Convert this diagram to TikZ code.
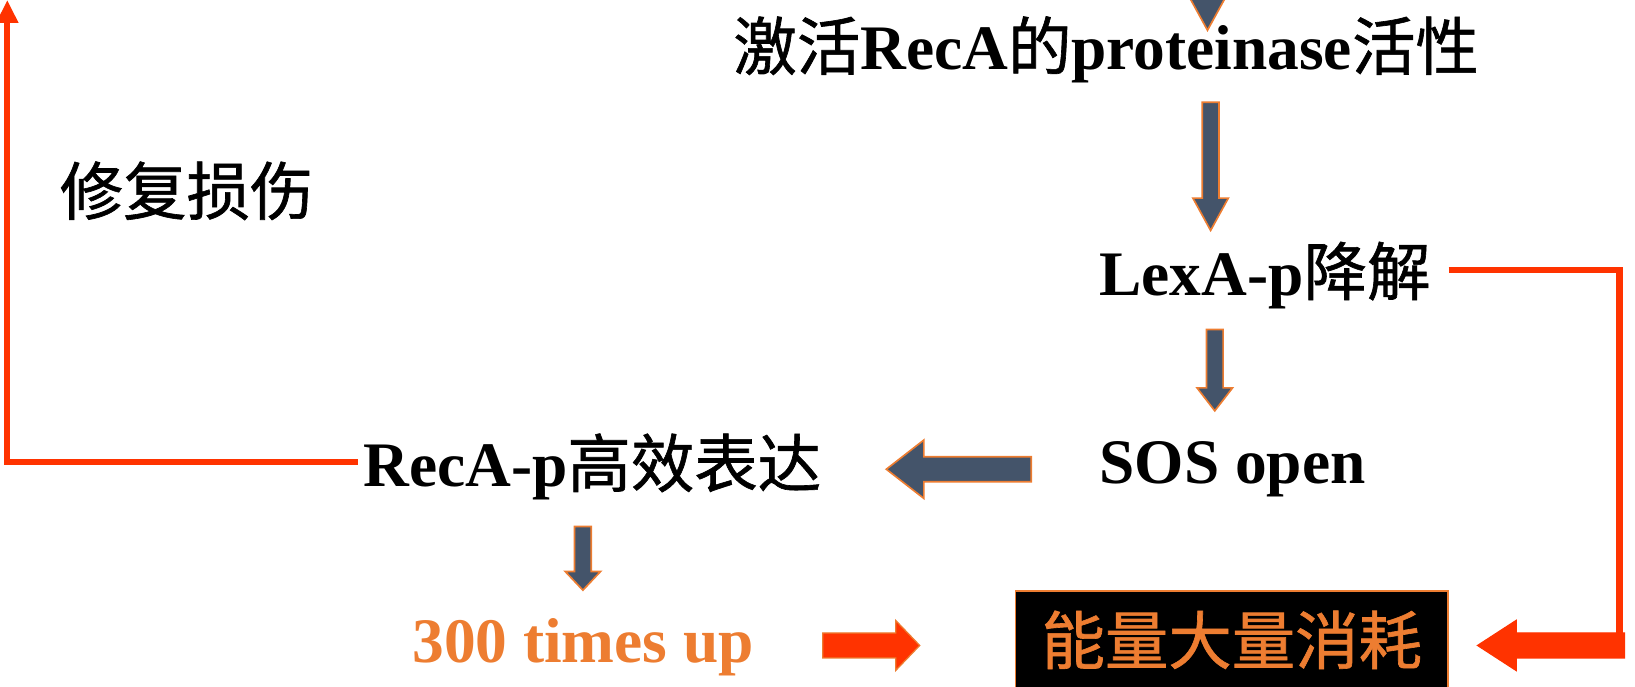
\documentclass[tikz,border=0pt]{standalone}
\usepackage{fontspec}
\setmainfont{Liberation Serif}
\newfontfamily\cjk[FakeBold=1]{Noto Sans CJK SC}
\usetikzlibrary{calc,arrows.meta}
\definecolor{slate}{HTML}{44546A}
\definecolor{orng}{HTML}{ED7D31}
\definecolor{redo}{HTML}{FF3300}
\newcommand\zh[1]{{\cjk\mdseries #1}}
\newcommand\bigfont{\fontsize{30.4pt}{36pt}\selectfont}
% #1 style, #2 from, #3 to, #4 shaft half width, #5 head half width, #6 head length
\newcommand\blockarr[6]{%
  \coordinate (tmpB) at ($(#3)!#6!(#2)$);
  \draw[#1] ($(#2)!#4!90:(#3)$) -- ($(tmpB)!#4!90:(#3)$) -- ($(tmpB)!#5!90:(#3)$) -- (#3)
    -- ($(tmpB)!#5!-90:(#3)$) -- ($(tmpB)!#4!-90:(#3)$) -- ($(#2)!#4!-90:(#3)$) -- cycle;}
\begin{document}
\begin{tikzpicture}[x=0.5pt,y=-0.5pt,
  lbl/.style={font=\bigfont\bfseries, inner sep=0pt, anchor=base west},
  darr/.style={fill=slate, draw=orng, line width=0.8pt, line join=miter},
  rarr/.style={fill=redo, draw=orng, line width=0.6pt, line join=miter},
  redline/.style={draw=redo, line width=3pt, line join=miter},
  ebox/.style={fill=black, draw=orng, line width=0.8pt, text=orng, inner sep=0pt,
    font=\bigfont, anchor=north west, minimum width=207.5pt, minimum height=60pt,
    text height=22pt, text depth=12pt}]
\useasboundingbox (0,0) rectangle (1568,658);

% text nodes
\node[lbl] (act) at (703,67) {\zh{激活}RecA\zh{的}proteinase\zh{活性}};
\node[lbl, font=\bigfont\mdseries] (repair) at (57,206) {\zh{修复损伤}};
\node[lbl] (lexa) at (1054,283) {LexA-p\zh{降解}};
\node[lbl] (sos) at (1054,464) {SOS open};
\node[lbl] (reca) at (348,467) {RecA-p\zh{高效表达}};
\node[lbl, text=orng] (times) at (395,635) {300 times up};
\node[ebox] (energy) at (973,566) {\zh{能量大量消耗}};

% arrow end points
\coordinate (a0s) at (1158,-40);  \coordinate (a0e) at (1158,29);
\coordinate (a1s) at (1161,98);   \coordinate (a1e) at (1161,221);
\coordinate (a2s) at (1165,316);  \coordinate (a2e) at (1165,394);
\coordinate (a3s) at (989,450);   \coordinate (a3e) at (850,450);
\coordinate (a4s) at (559,505);   \coordinate (a4e) at (559,566);
\coordinate (a5s) at (789,619);   \coordinate (a5e) at (882,619);
\coordinate (a6s) at (1558,619);  \coordinate (a6e) at (1417,619);

\blockarr{darr}{a0s}{a0e}{4pt}{8.5pt}{15.5pt}
\blockarr{darr}{a1s}{a1e}{4pt}{8.5pt}{15.5pt}
\blockarr{darr}{a2s}{a2e}{4pt}{8.5pt}{11pt}
\blockarr{darr}{a3s}{a3e}{6pt}{14pt}{18pt}
\blockarr{darr}{a4s}{a4e}{4pt}{8.5pt}{9pt}
\blockarr{rarr}{a5s}{a5e}{6pt}{12pt}{11.5pt}

% red connectors
\coordinate (recaL) at ($(reca.base west)+(-5,-24)$);
\coordinate (topL) at (7,0);
\draw[redline, -{Triangle[width=10pt,length=11pt]}] (recaL) -| (topL);
\coordinate (lexaR) at ($(lexa.base east)+(17,-24)$);
\coordinate (rc) at (1553,609);
\draw[redline] (lexaR) -| (rc);
\blockarr{rarr, draw=redo}{a6s}{a6e}{6pt}{12pt}{18.5pt}
\end{tikzpicture}
\end{document}
